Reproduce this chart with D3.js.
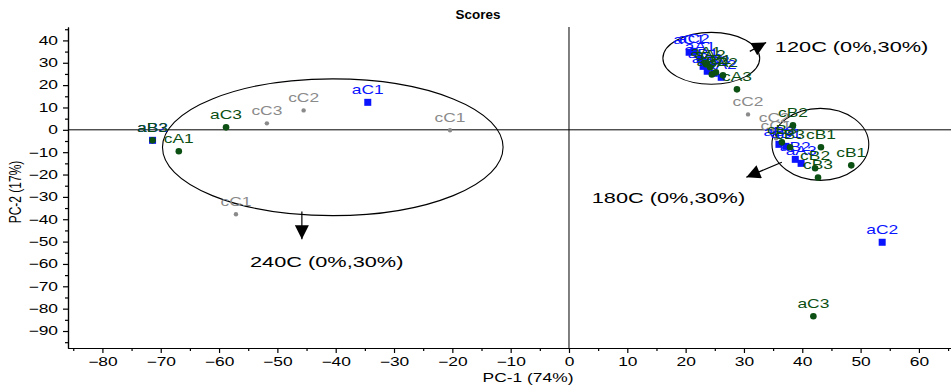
<!DOCTYPE html>
<html><head><meta charset="utf-8">
<script src="https://cdn.jsdelivr.net/npm/d3@7"></script>
<style>body{margin:0;background:#fff}text{font-family:"Liberation Sans",Arial,sans-serif}</style>
</head><body><svg id="c" width="951" height="387"></svg>
<script>
// Blue squares (a-samples)
const blueNames = ["aB2","aC1","aC2","aC1","aC2","aA1","aB1","aA3","aB3","aA2","aB3","aB1","aB2","aA3"];
const blueX = [-71.4,-34.5,53.7,20.6,21.4,22.5,23.0,23.7,24.9,26.1,36.0,37.2,38.8,39.8];
const blueY = [-4.7,12.3,-50.3,34.7,35.1,31.5,28.4,26.2,25.3,23.5,-6.5,-7.4,-13.2,-15.0];
// Dark green circles
const greenNames = ["aB3","cA1","aC3","aC3","aA1","aA2","aB1","aB2","cA2","cA3","cB2","cB1","cB1","cB2","cB3","cB3","cB3"];
const greenX = [-71.4,-66.9,-58.8,41.9,23.5,24.2,25.2,24.5,26.4,28.8,38.4,43.2,48.4,42.2,42.7,36.5,37.9];
const greenY = [-4.7,-9.6,1.1,-83.4,29.3,28.0,25.7,24.8,24.4,18.1,2.0,-7.8,-15.9,-17.2,-21.3,-5.6,-7.8];
// Gray dots (c-samples)
const grayNames = ["cC3","cC2","cC1","cC1","cC2","cC2","cC1"];
const grayX = [-51.8,-45.5,-20.4,-57.1,30.7,35.2,35.5];
const grayY = [2.9,8.7,-0.2,-37.8,6.9,-0.2,-3.8];
// Ellipses: centre x, centre y, radius x, radius y
const ellCX = [-40.5,24.4,43.1];
const ellCY = [-7.8,32.0,-6.5];
const ellRX = [29.2,8.3,8.3];
const ellRY = [30.6,11.6,16.1];
// Annotations: arrow start/end and label
const annText = ["240C (0%,30%)","120C (0%,30%)","180C (0%,30%)"];
const arrX1 = [-45.8,31.0,36.5], arrY1 = [-36.5,35.1,-14.5];
const arrX2 = [-45.8,33.8,30.4], arrY2 = [-49.0,39.1,-21.2];
const annX = [-54.7,35.3,3.9], annY = [-61.5,34.7,-32.9];
const xTicks = [-80,-70,-60,-50,-40,-30,-20,-10,0,10,20,30,40,50,60];
const yTicks = [40,30,20,10,0,-10,-20,-30,-40,-50,-60,-70,-80,-90];

const SX = 1.45;
const svg = d3.select("#c");
const x = d3.scaleLinear().domain([-85.9,65.5]).range([68,951]);
const y = d3.scaleLinear().domain([-97.6,46]).range([348,27]);

// title
svg.append("text").attr("transform",`translate(478,19) scale(1.12,1)`).attr("text-anchor","middle")
  .attr("font-size",12).attr("font-weight","bold").text("Scores");

// zero lines
svg.append("line").attr("x1",x(-85.9)).attr("x2",x(65.5)).attr("y1",y(0)).attr("y2",y(0)).attr("stroke","#000").attr("stroke-width",1);
svg.append("line").attr("x1",x(0)).attr("x2",x(0)).attr("y1",y(46)).attr("y2",y(-97.6)).attr("stroke","#000").attr("stroke-width",1);

// axes
const minorX = d3.range(-85,66,5).filter(v=>v%10!==0);
const minorY = d3.range(-95,46,5).filter(v=>v%10!==0);
const gx = svg.append("g").attr("transform",`translate(0,${y(-97.6)})`)
  .call(d3.axisBottom(x).tickValues(xTicks).tickSize(5).tickSizeOuter(0).tickPadding(4));
gx.selectAll("text").attr("font-size",12).attr("transform",`scale(${SX},1)`).attr("fill","#000");
svg.append("g").attr("transform",`translate(0,${y(-97.6)})`)
  .call(d3.axisBottom(x).tickValues(minorX).tickSize(3).tickSizeOuter(0).tickFormat(""));
const gy = svg.append("g").attr("transform",`translate(${x(-85.9)},0)`)
  .call(d3.axisLeft(y).tickValues(yTicks).tickSize(5).tickSizeOuter(0).tickPadding(5));
gy.selectAll("text").attr("font-size",12).attr("x",-10/SX).attr("transform",`scale(${SX},1)`).attr("fill","#000");
svg.append("g").attr("transform",`translate(${x(-85.9)},0)`)
  .call(d3.axisLeft(y).tickValues(minorY).tickSize(3).tickSizeOuter(0).tickFormat(""));
svg.selectAll(".domain").attr("stroke","#000").attr("stroke-width",1.2);
svg.selectAll(".tick line").attr("stroke","#000").attr("stroke-width",1.2);

// axis titles
svg.append("text").attr("transform",`translate(528,382) scale(${SX},1)`).attr("text-anchor","middle")
  .attr("font-size",12).text("PC-1 (74%)");
svg.append("text").attr("transform",`translate(21,192) rotate(-90) scale(1,${SX})`).attr("text-anchor","middle")
  .attr("font-size",12).text("PC-2 (17%)");

// ellipses
svg.append("g").selectAll("ellipse").data(ellCX).join("ellipse")
  .attr("cx",(d)=>x(d)).attr("cy",(d,i)=>y(ellCY[i]))
  .attr("rx",(d,i)=>x(d+ellRX[i])-x(d)).attr("ry",(d,i)=>y(ellCY[i]-ellRY[i])-y(ellCY[i]))
  .attr("fill","none").attr("stroke","#000").attr("stroke-width",1.1);

// arrows
svg.append("defs").append("marker").attr("id","ah").attr("viewBox","0 0 10 10").attr("refX",10).attr("refY",5)
  .attr("markerWidth",16).attr("markerHeight",14).attr("markerUnits","userSpaceOnUse").attr("orient","auto")
  .append("path").attr("d","M0,0 L10,5 L0,10 z").attr("fill","#000");
svg.append("g").selectAll("line").data(arrX1).join("line")
  .attr("x1",d=>x(d)).attr("y1",(d,i)=>y(arrY1[i])).attr("x2",(d,i)=>x(arrX2[i])).attr("y2",(d,i)=>y(arrY2[i]))
  .attr("stroke","#000").attr("stroke-width",1.2).attr("marker-end","url(#ah)");
svg.append("g").selectAll("text").data(annText).join("text")
  .attr("transform",(d,i)=>`translate(${x(annX[i])},${y(annY[i])}) scale(${SX},1)`)
  .attr("font-size",15).attr("fill","#000").text(d=>d);

// points
function series(names, xs, ys, color, shape, size){
  const g = svg.append("g");
  const data = names.map((n,i)=>({n, x:xs[i], y:ys[i]}));
  if(shape==="square"){
    g.selectAll("rect").data(data).join("rect")
      .attr("x",d=>x(d.x)-size/2).attr("y",d=>y(d.y)-size/2).attr("width",size).attr("height",size).attr("fill",color);
  } else {
    g.selectAll("circle").data(data).join("circle")
      .attr("cx",d=>x(d.x)).attr("cy",d=>y(d.y)).attr("r",size).attr("fill",color);
  }
  g.selectAll("text").data(data).join("text")
    .attr("transform",d=>`translate(${x(d.x)},${y(d.y)-8}) scale(${SX},1)`)
    .attr("text-anchor","middle").attr("font-size",12).attr("fill",color).text(d=>d.n);
}
series(grayNames, grayX, grayY, "#8a8a8a", "circle", 2.2);
series(blueNames, blueX, blueY, "#0a14ff", "square", 7);
series(greenNames, greenX, greenY, "#0b4f12", "circle", 3.3);
</script></body></html>
